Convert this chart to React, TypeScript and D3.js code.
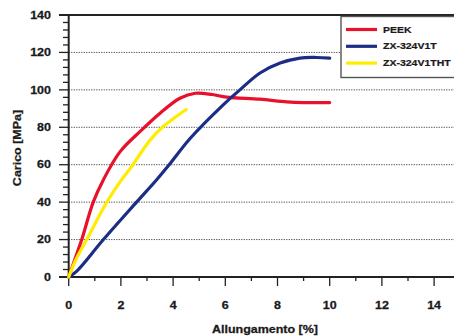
import React from "react";
import * as d3 from "d3";

// curve data: [allungamento %, carico MPa]
const peek: [number, number][] = [
  [0, 0], [0.25, 10], [0.5, 20], [0.94, 40], [1.33, 52], [1.97, 67], [2.8, 78.6],
  [3.5, 87.5], [4.26, 95.5], [4.85, 98.2], [5.5, 97.5], [6.05, 96.1], [7.33, 95],
  [8.35, 93.6], [9, 93.2], [10, 93.2],
];
const zx324v1t: [number, number][] = [
  [0, 0], [0.3, 3], [1.33, 20], [2.6, 40], [3.37, 52], [3.88, 60.5], [4.65, 74],
  [5.92, 92], [6.56, 100], [7.33, 109], [8.1, 114.3], [8.86, 117],
  [9.5, 117.3], [10, 117],
];
const zx324v1tht: [number, number][] = [
  [0, 0], [0.3, 10], [0.69, 20], [1.46, 40], [2.03, 52], [2.41, 59], [3.11, 73],
  [3.62, 80.4], [4.0, 84.5], [4.5, 89.5],
];

const seriesNames = ["PEEK", "ZX-324V1T", "ZX-324V1THT"];
const seriesColors = ["#e8102c", "#1c2d86", "#ffec00"];
const seriesData = [peek, zx324v1t, zx324v1tht];

const xTicks = [0, 2, 4, 6, 8, 10, 12, 14];
const yTicks = [0, 20, 40, 60, 80, 100, 120, 140];

const W = 454;
const H = 336;
const font = "'Liberation Sans', Arial, sans-serif";
const stretch = 1.25;

export default function App() {
  const x = d3.scaleLinear().domain([0, 15]).range([68.7, 68.7 + 15 * 26.1]);
  const y = d3.scaleLinear().domain([0, 140]).range([277, 15]);
  const line = d3
    .line<[number, number]>()
    .x((d) => x(d[0]))
    .y((d) => y(d[1]))
    .curve(d3.curveCatmullRom.alpha(0.5));

  const yMinor = d3.range(0, 141, 4);
  const xMinor = d3.range(1, 15, 2);

  return (
    <svg
      width={W}
      height={H}
      style={{ position: "absolute", left: 0, top: 0, background: "#fff" }}
      fontFamily={font}
      fontWeight="bold"
    >
      {/* dotted grid */}
      {yTicks.slice(1, -1).map((t) => (
        <line key={t} x1={x(0)} x2={W} y1={y(t)} y2={y(t)}
          stroke="#444" strokeWidth={1} strokeDasharray="1.2,1.3" />
      ))}
      {/* top border */}
      <line x1={59} x2={W} y1={y(140)} y2={y(140)} stroke="#222" strokeWidth={2} />

      {/* y axis */}
      <line x1={x(0)} x2={x(0)} y1={y(140)} y2={y(0)} stroke="#222" strokeWidth={2} />
      {yMinor.map((t) => (
        <line key={t} x1={t % 20 === 0 ? 59 : 63} x2={x(0)} y1={y(t)} y2={y(t)}
          stroke="#222" strokeWidth={1.3} />
      ))}
      {yTicks.map((t) => (
        <text key={t} transform={`translate(51,${y(t) + 3.7}) scale(${stretch},1)`}
          textAnchor="end" fontSize={10} fill="#1a1a1a" stroke="#1a1a1a" strokeWidth={0.25}>{t}</text>
      ))}

      {/* x axis */}
      <line x1={59} x2={W} y1={y(0)} y2={y(0)} stroke="#222" strokeWidth={2} />
      {xTicks.map((t) => (
        <line key={t} x1={x(t)} x2={x(t)} y1={y(0)} y2={y(0) + 9} stroke="#222" strokeWidth={1.3} />
      ))}
      {xMinor.map((t) => (
        <line key={t} x1={x(t)} x2={x(t)} y1={y(0)} y2={y(0) + 4} stroke="#222" strokeWidth={1.3} />
      ))}
      {xTicks.map((t) => (
        <text key={t} transform={`translate(${x(t)},309) scale(${stretch},1)`}
          textAnchor="middle" fontSize={10} fill="#1a1a1a" stroke="#1a1a1a" strokeWidth={0.25}>{t}</text>
      ))}

      {/* axis titles */}
      <text transform={`translate(265,333) scale(${stretch},1)`} textAnchor="middle"
        fontSize={10} fill="#1a1a1a" stroke="#1a1a1a" strokeWidth={0.25}>Allungamento [%]</text>
      <text transform={`translate(21,148) rotate(-90) scale(${stretch},1)`} textAnchor="middle"
        fontSize={10} fill="#1a1a1a" stroke="#1a1a1a" strokeWidth={0.25}>Carico [MPa]</text>

      {/* curves */}
      {seriesData.map((d, i) => (
        <path key={seriesNames[i]} d={line(d) ?? ""} fill="none"
          stroke={seriesColors[i]} strokeWidth={3.2} strokeLinecap="round" />
      ))}

      {/* legend */}
      <rect x={341} y={16.5} width={120} height={61} fill="#fff" stroke="#555" strokeWidth={1.4} />
      {seriesNames.map((n, i) => (
        <g key={n}>
          <line x1={346} x2={377} y1={29.5 + i * 16.8} y2={29.5 + i * 16.8}
            stroke={seriesColors[i]} strokeWidth={3.2} />
          <text transform={`translate(383,${32.6 + i * 16.8}) scale(${stretch},1)`}
            fontSize={8.4} fill="#1a1a1a" stroke="#1a1a1a" strokeWidth={0.2}>{n}</text>
        </g>
      ))}
    </svg>
  );
}
